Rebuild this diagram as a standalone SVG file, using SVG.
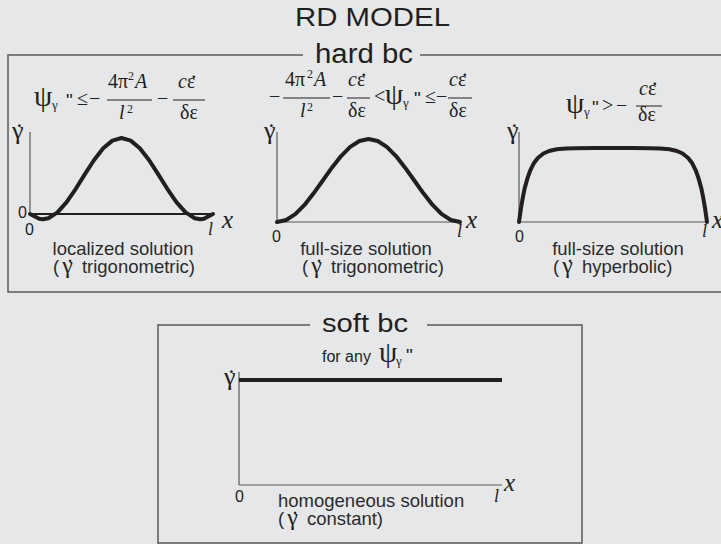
<svg xmlns="http://www.w3.org/2000/svg" width="721" height="544" viewBox="0 0 721 544">
<style>
.bg{fill:#e6e7e8}
.box{fill:none;stroke:#58595b;stroke-width:1.5}
.ax{fill:none;stroke:#58595b;stroke-width:1.2}
.cv{fill:none;stroke:#231f20;stroke-width:4;stroke-linejoin:round;stroke-linecap:round}
.fl{stroke:#231f20;stroke-width:1}
.t{font-family:"Liberation Sans",Arial,sans-serif;fill:#231f20}
.s{font-family:"Liberation Serif","Times New Roman",serif;fill:#231f20}
.i{font-style:italic}
.cap{font-family:"Liberation Sans",Arial,sans-serif;font-size:18.5px;fill:#2b2b2d}
.f{font-size:20px}
.psi{font-size:29px}
.sub{font-size:13px}
.sup{font-size:12px}
.g{font-size:26px}
.gc{font-size:24px}
.d{font-size:22px}
.n{font-family:"Liberation Sans",Arial,sans-serif;font-size:16px;fill:#231f20}
</style>
<rect class="bg" x="0" y="0" width="721" height="544"/>
<g id="title">
<text class="t" x="295" y="26" font-size="26" textLength="155" lengthAdjust="spacingAndGlyphs">RD MODEL</text>
</g>
<g id="hard-bc">
<path class="box" d="M303,55 H8 V292 H723 V55 H420"/>
<text class="t" x="315" y="63" font-size="27" textLength="98" lengthAdjust="spacingAndGlyphs">hard bc</text>
</g>
<g id="plot-localized">
<text class="s psi" x="34" y="106">ψ</text>
<text class="s sub" x="52" y="109">γ</text>
<text class="t" x="66" y="107" font-size="19">"</text>
<text class="s f" x="77" y="105">≤</text>
<text class="s f" x="89" y="105">−</text>
<line class="fl" x1="107" y1="100" x2="152" y2="100"/>
<text class="s f" x="108" y="88">4π</text>
<text class="s sup" x="128" y="80">2</text>
<text class="s f i" x="135" y="88">A</text>
<text class="s f i" x="119" y="119">l</text>
<text class="s sup" x="127" y="113">2</text>
<text class="s f" x="157" y="105">−</text>
<line class="fl" x1="173" y1="100" x2="205" y2="100"/>
<text class="s f i" x="178" y="88">c</text>
<text class="s f" x="187" y="88">ε</text>
<text class="s d" x="191" y="78">.</text>
<text class="s f" x="180" y="119">δε</text>
<line class="ax" x1="30" y1="132" x2="30" y2="214"/>
<line x1="30" y1="214" x2="213" y2="214" stroke="#231f20" stroke-width="2"/>
<polyline class="cv" points="30,214 39.2,218.7 42.8,219.2 48.3,218.2 57.5,212.4 66.6,202.1 75.8,188.8 84.9,174.1 94.1,160 103.2,148.3 112.4,140.6 121.5,138 130.7,140.6 139.8,148.3 149,160 158.1,174.1 167.3,188.8 176.4,202.1 185.6,212.4 194.7,218.2 200.2,219.2 203.9,218.7 213,214"/>
<text class="s g" x="12" y="139">γ</text>
<text class="s g" x="15" y="141">˙</text>
<text class="n" x="18" y="218">0</text>
<text class="n" x="25" y="235">0</text>
<text class="s i" x="208" y="235" font-size="18">l</text>
<text class="s i" x="222" y="228" font-size="25">x</text>
<text class="cap" x="123" y="255" text-anchor="middle">localized solution</text>
<text class="cap" x="53" y="273">(<tspan class="s gc" dx="3">γ</tspan><tspan dx="4"> trigonometric)</tspan></text>
<text class="s gc" x="66" y="275">˙</text>
</g>
<g id="plot-fullsize-trig">
<text class="s f" x="269" y="103">−</text>
<line class="fl" x1="283" y1="98" x2="330" y2="98"/>
<text class="s f" x="285" y="86">4π</text>
<text class="s sup" x="307" y="78">2</text>
<text class="s f i" x="314" y="86">A</text>
<text class="s f i" x="300" y="117">l</text>
<text class="s sup" x="307" y="111">2</text>
<text class="s f" x="332" y="103">−</text>
<line class="fl" x1="347" y1="98" x2="370" y2="98"/>
<text class="s f i" x="348" y="86">c</text>
<text class="s f" x="357" y="86">ε</text>
<text class="s d" x="361" y="76">.</text>
<text class="s f" x="348" y="117">δε</text>
<text class="s f" x="374" y="103">&lt;</text>
<text class="s psi" x="385" y="104">ψ</text>
<text class="s sub" x="403" y="107">γ</text>
<text class="t" x="414" y="105" font-size="19">"</text>
<text class="s f" x="425" y="103">≤</text>
<text class="s f" x="436" y="103">−</text>
<line class="fl" x1="448" y1="98" x2="472" y2="98"/>
<text class="s f i" x="449" y="86">c</text>
<text class="s f" x="458" y="86">ε</text>
<text class="s d" x="462" y="76">.</text>
<text class="s f" x="449" y="117">δε</text>
<line class="ax" x1="277" y1="132" x2="277" y2="222"/>
<line class="ax" x1="277" y1="222" x2="460" y2="222"/>
<polyline class="cv" points="277,222 286.2,220 295.3,214.1 304.5,204.9 313.6,193.3 322.8,180.5 331.9,167.7 341.1,156.1 350.2,146.9 359.4,141 368.5,139 377.7,141 386.8,146.9 396,156.1 405.1,167.7 414.3,180.5 423.4,193.3 432.6,204.9 441.7,214.1 450.9,220 460,222"/>
<text class="s g" x="264" y="139">γ</text>
<text class="s g" x="267" y="141">˙</text>
<text class="n" x="272" y="242">0</text>
<text class="s i" x="457" y="237" font-size="18">l</text>
<text class="s i" x="466" y="228" font-size="25">x</text>
<text class="cap" x="366" y="255" text-anchor="middle">full-size solution</text>
<text class="cap" x="302" y="273">(<tspan class="s gc" dx="3">γ</tspan><tspan dx="4"> trigonometric)</tspan></text>
<text class="s gc" x="315" y="275">˙</text>
</g>
<g id="plot-fullsize-hyp">
<text class="s psi" x="566" y="113">ψ</text>
<text class="s sub" x="584" y="116">γ</text>
<text class="t" x="592" y="114" font-size="19">"</text>
<text class="s f" x="602" y="112">&gt;</text>
<text class="s f" x="616" y="112">−</text>
<line class="fl" x1="636" y1="106" x2="662" y2="106"/>
<text class="s f i" x="639" y="95">c</text>
<text class="s f" x="648" y="95">ε</text>
<text class="s d" x="652" y="85">.</text>
<text class="s f" x="638" y="121">δε</text>
<line class="ax" x1="519" y1="132" x2="519" y2="222"/>
<line class="ax" x1="519" y1="222" x2="707" y2="222"/>
<polyline class="cv" points="519,222 520.9,208.6 522.8,197.6 524.6,188.6 527.5,178.1 530.3,170.3 534,162.9 537.8,158 543.4,153.5 549.1,151 556.6,149.3 566,148.5 575.4,148.2 594.2,148 613,148 631.8,148 650.6,148.2 660,148.5 669.4,149.3 676.9,151 682.6,153.5 688.2,158 692,162.9 695.7,170.3 698.5,178.1 701.4,188.6 703.2,197.6 705.1,208.6 707,222"/>
<text class="s g" x="507" y="139">γ</text>
<text class="s g" x="510" y="141">˙</text>
<text class="n" x="515" y="242">0</text>
<text class="s i" x="702" y="237" font-size="18">l</text>
<text class="s i" x="712" y="228" font-size="25">x</text>
<text class="cap" x="618" y="255" text-anchor="middle">full-size solution</text>
<text class="cap" x="553" y="273">(<tspan class="s gc" dx="3">γ</tspan><tspan dx="4"> hyperbolic)</tspan></text>
<text class="s gc" x="566" y="275">˙</text>
</g>
<g id="soft-bc">
<path class="box" d="M310,325 H158 V543 H582 V325 H427"/>
<text class="t" x="322" y="332" font-size="25" textLength="86" lengthAdjust="spacingAndGlyphs">soft bc</text>
<text class="t" x="322" y="362" font-size="16">for any</text>
<text class="s psi" x="379" y="362">ψ</text>
<text class="s sub" x="396" y="365">γ</text>
<text class="t" x="406" y="362" font-size="19">"</text>
<line class="ax" x1="239" y1="372" x2="239" y2="485"/>
<line class="ax" x1="239" y1="485" x2="502" y2="485"/>
<line x1="239" y1="380" x2="502" y2="380" stroke="#231f20" stroke-width="4"/>
<text class="s g" x="224" y="385">γ</text>
<text class="s g" x="227" y="387">˙</text>
<text class="n" x="235" y="502">0</text>
<text class="s i" x="494" y="502" font-size="18">l</text>
<text class="s i" x="504" y="491" font-size="25">x</text>
<text class="cap" x="278" y="507">homogeneous solution</text>
<text class="cap" x="278" y="525">(<tspan class="s gc" dx="3">γ</tspan><tspan dx="4"> constant)</tspan></text>
<text class="s gc" x="291" y="527">˙</text>
</g>
</svg>
